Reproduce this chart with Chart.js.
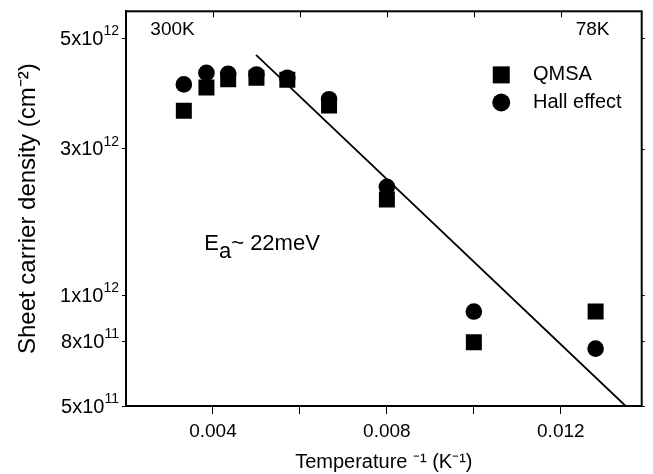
<!DOCTYPE html>
<html>
<head>
<meta charset="utf-8">
<script src="https://cdn.jsdelivr.net/npm/chart.js@4.4.1/dist/chart.umd.min.js"></script>
<style>
  body { margin: 0; background: #fff; }
</style>
</head>
<body>
<canvas id="myChart" width="653" height="474"></canvas>
<script>
// inverse temperature (1/K): 300K ... 78K
var invTemp = [0.00333, 0.00385, 0.00435, 0.005, 0.00571, 0.00667, 0.008, 0.010, 0.0128];
var qmsaValues = [3.17e12, 3.67e12, 3.86e12, 3.90e12, 3.85e12, 3.28e12, 1.82e12, 7.45e11, 9.03e11];
var hallValues = [3.74e12, 4.02e12, 4.00e12, 3.98e12, 3.90e12, 3.41e12, 1.97e12, 9.03e11, 7.16e11];
// fitted line, Ea ~ 22 meV
var fitX = [0.00499, 0.01349];
var fitY = [4.5e12, 5.0e11];

var xTicks = [0.004, 0.006, 0.008, 0.010, 0.012];
var xTickLabels = ["0.004", "", "0.008", "", "0.012"];
// tick marks sit where the figure puts them
var yTicks = [5e11, 7.5e11, 1e12, 2.5e12, 5e12];
var yTickMant = ["5x10", "8x10", "1x10", "3x10", "5x10"];
var yTickExp = ["11", "11", "12", "12", "12"];

var FONT = "'Liberation Sans', Arial, sans-serif";

function pts(xs, ys) {
  return xs.map(function (x, i) { return {x: x, y: ys[i]}; });
}

var extras = {
  id: "extras",
  afterDraw: function (chart) {
    var ctx = chart.ctx, a = chart.chartArea;
    var xs = chart.scales.x, ys = chart.scales.y;
    ctx.save();
    ctx.strokeStyle = "#000";
    ctx.lineWidth = 2;
    ctx.strokeRect(a.left, a.top, a.right - a.left, a.bottom - a.top);
    ctx.lineWidth = 1;
    ctx.beginPath();
    xTicks.forEach(function (v) {
      var px = Math.round(xs.getPixelForValue(v)) + 0.5;
      ctx.moveTo(px, a.top);
      ctx.lineTo(px, a.top + 6);
    });
    yTicks.forEach(function (v) {
      var py = Math.round(ys.getPixelForValue(v)) + 0.5;
      ctx.moveTo(a.right, py);
      ctx.lineTo(a.right + 3, py);
    });
    ctx.stroke();

    ctx.fillStyle = "#000";
    ctx.textBaseline = "middle";

    // y tick labels with superscripts
    yTicks.forEach(function (v, i) {
      var py = ys.getPixelForValue(v);
      ctx.font = "14px " + FONT;
      ctx.textAlign = "right";
      var ew = ctx.measureText(yTickExp[i]).width;
      ctx.fillText(yTickExp[i], a.left - 7, py - 7);
      ctx.font = "20px " + FONT;
      ctx.fillText(yTickMant[i], a.left - 7 - ew, py + 1);
    });

    ctx.font = "19px " + FONT;
    ctx.textAlign = "left";
    ctx.fillText("300K", xs.getPixelForValue(0.00256), ys.getPixelForValue(5.25e12));
    ctx.textAlign = "right";
    ctx.fillText("78K", xs.getPixelForValue(0.01312), ys.getPixelForValue(5.25e12));

    // activation energy label
    ctx.textAlign = "left";
    var ex = xs.getPixelForValue(0.0038), ey = ys.getPixelForValue(1.38e12);
    ctx.font = "22px " + FONT;
    ctx.fillText("E", ex, ey);
    var w = ctx.measureText("E").width;
    ctx.fillText("a", ex + w, ey + 8);
    w += ctx.measureText("a").width;
    ctx.fillText("~ 22meV", ex + w, ey);

    // legend
    var lx = xs.getPixelForValue(0.01063);
    var l1 = ys.getPixelForValue(3.97e12), l2 = ys.getPixelForValue(3.34e12);
    ctx.fillRect(lx - 8.5, l1 - 8.5, 17, 17);
    ctx.beginPath();
    ctx.arc(lx, l2, 9, 0, Math.PI * 2);
    ctx.fill();
    var tx = xs.getPixelForValue(0.01136);
    ctx.font = "20px " + FONT;
    ctx.fillText("QMSA", tx, l1);
    ctx.fillText("Hall effect", tx, l2);
    ctx.restore();
  }
};

new Chart("myChart", {
  type: "scatter",
  data: {
    datasets: [{
      label: "Hall effect",
      data: pts(invTemp, hallValues),
      pointStyle: "circle",
      pointRadius: 8.3,
      backgroundColor: "#000",
      borderWidth: 0
    }, {
      label: "QMSA",
      data: pts(invTemp, qmsaValues),
      pointStyle: "rect",
      pointRadius: 11.3,
      backgroundColor: "#000",
      borderWidth: 0
    }, {
      label: "fit",
      type: "line",
      data: pts(fitX, fitY),
      showLine: true,
      pointRadius: 0,
      borderColor: "#000",
      borderWidth: 1.8,
      fill: false
    }]
  },
  options: {
    responsive: false,
    animation: false,
    devicePixelRatio: 1,
    layout: {padding: {top: 8, right: 10, left: 0, bottom: 0}},
    plugins: {legend: {display: false}, tooltip: {enabled: false}},
    scales: {
      x: {
        type: "linear",
        min: 0.002,
        max: 0.01386,
        afterBuildTicks: function (s) { s.ticks = xTicks.map(function (v) { return {value: v}; }); },
        afterFit: function (s) { s.height = 68; },
        ticks: {
          callback: function (v, i) { return xTickLabels[i]; },
          autoSkip: false, maxRotation: 0, padding: 6,
          color: "#000", font: {size: 19, family: FONT}
        },
        grid: {drawOnChartArea: false, tickLength: 8, color: "#000", tickWidth: 1},
        border: {color: "#000", width: 2},
        title: {
          display: true, text: "Temperature \u207B\u00B9 (K\u207B\u00B9)",
          color: "#000", font: {size: 20, family: FONT}, padding: {top: 6, bottom: 0}
        }
      },
      y: {
        type: "logarithmic",
        min: 5e11,
        max: 5.91e12,
        afterBuildTicks: function (s) { s.ticks = yTicks.map(function (v) { return {value: v}; }); },
        afterFit: function (s) { s.width = 126; },
        ticks: {display: false},
        grid: {drawOnChartArea: false, tickLength: 4, color: "#000", tickWidth: 1},
        border: {color: "#000", width: 2},
        title: {
          display: true, text: "Sheet carrier density (cm\u207B\u00B2)",
          color: "#000", font: {size: 24, family: FONT}, padding: {top: 14, bottom: 0}
        }
      }
    }
  },
  plugins: [extras]
});
</script>
</body>
</html>
